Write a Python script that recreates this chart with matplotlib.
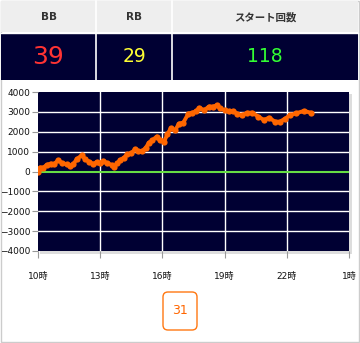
import matplotlib
matplotlib.use("Agg")
import matplotlib.pyplot as plt
from matplotlib.patches import Rectangle, FancyBboxPatch

plt.rcParams['font.family'] = ['DejaVu Sans', 'Noto Sans CJK JP']

# header table
header_labels = ["BB", "RB", "スタート回数"]
header_values = ["39", "29", "118"]
value_colors = ["#ff3333", "#ffff33", "#33ff33"]
col_edges = [1, 96, 172, 358]

# slump graph (hour of day, balance)
hours = [10.00, 10.10, 10.26, 10.42, 10.61, 10.77, 10.98, 11.17, 11.38, 11.54,
         11.70, 11.87, 12.11, 12.27, 12.46, 12.67, 12.83, 12.99, 13.15, 13.34,
         13.56, 13.68, 13.83, 13.96, 14.15, 14.31, 14.49, 14.68, 14.84, 15.03,
         15.20, 15.35, 15.51, 15.73, 15.89, 16.08, 16.24, 16.40, 16.61, 16.80,
         17.01, 17.25, 17.44, 17.61, 17.78, 18.01, 18.25, 18.46, 18.62, 18.78,
         19.02, 19.21, 19.42, 19.60, 19.83, 20.10, 20.34, 20.63, 20.90, 21.14,
         21.43, 21.67, 21.92, 22.16, 22.45, 22.83, 23.15]
balance = [0, 200, 200, 330, 400, 370, 570, 420, 370, 280,
           370, 620, 820, 620, 500, 370, 480, 420, 530, 420,
           330, 250, 420, 580, 700, 870, 910, 1120, 1030, 1030,
           1200, 1450, 1570, 1760, 1570, 1500, 1870, 2170, 2070, 2410,
           2460, 2910, 2960, 3020, 3210, 3080, 3270, 3270, 3330, 3180,
           3080, 3020, 3050, 2910, 2830, 2960, 2960, 2760, 2590, 2710,
           2510, 2510, 2660, 2840, 2930, 3050, 2960]
x_ticks = [10, 13, 16, 19, 22, 25]
x_labels = ["10時", "13時", "16時", "19時", "22時", "1時"]
y_ticks = [-4000, -3000, -2000, -1000, 0, 1000, 2000, 3000, 4000]
footer_value = "31"

W, H = 360, 343
fig = plt.figure(figsize=(W / 100, H / 100), dpi=100)

# page layer in pixel coordinates
bg = fig.add_axes([0, 0, 1, 1])
bg.set_xlim(0, W)
bg.set_ylim(H, 0)
bg.axis("off")

bg.add_patch(Rectangle((0.5, 0.5), 358, 341, facecolor="white", edgecolor="#cccccc", lw=1))
for i in range(3):
    x0, x1 = col_edges[i], col_edges[i + 1]
    bg.add_patch(Rectangle((x0, 1), x1 - x0, 31, facecolor="#eeeeee", edgecolor="none"))
    bg.add_patch(Rectangle((x0, 33), x1 - x0, 47, facecolor="#000033", edgecolor="none"))
    cx = (x0 + x1) / 2
    bg.text(cx, 17, header_labels[i], ha="center", va="center", fontsize=7.5,
            fontweight="bold", color="#333333")
    bg.text(cx, 57, header_values[i], ha="center", va="center",
            fontsize=18 if i == 0 else 13.5, color=value_colors[i])
for xe in col_edges[1:-1]:
    bg.plot([xe, xe], [1, 80], color="white", lw=1.2)
bg.plot([1, 358], [32.5, 32.5], color="white", lw=1)

# shadow behind plot area
bg.add_patch(Rectangle((40, 94), 312, 160, facecolor="#dddddd", edgecolor="none"))

bg.add_patch(FancyBboxPatch((163, 292), 34, 38, boxstyle="round,pad=0,rounding_size=5",
                            facecolor="white", edgecolor="#ff7711", lw=1))
bg.text(180, 311, footer_value, ha="center", va="center", fontsize=9, color="#ff6600")

# chart
ax = fig.add_axes([38 / W, 1 - 251 / H, 311 / W, 159 / H])
ax.set_facecolor("#000033")
ax.set_xlim(10, 25)
ax.set_ylim(-4000, 4000)
for t in x_ticks[1:-1]:
    ax.axvline(t, color="white", lw=1, zorder=1)
for t in y_ticks[1:-1]:
    if t != 0:
        ax.axhline(t, color="white", lw=1, zorder=1)
ax.axhline(0, color="#66dd44", lw=1.5, zorder=2)
ax.plot(hours, balance, color="#ff6600", lw=2.8, marker="o", markersize=4.5,
        markeredgewidth=0, zorder=3)

ax.set_xticks(x_ticks)
ax.set_xticklabels(x_labels)
ax.set_yticks(y_ticks)
ax.tick_params(axis="both", labelsize=6.5, colors="#999999", labelcolor="#111111",
               length=4, width=0.8)
ax.tick_params(axis="y", pad=1.5)
ax.tick_params(axis="x", pad=10, length=5)
for s in ax.spines.values():
    s.set_visible(False)

fig.savefig("out.png", dpi=100)
